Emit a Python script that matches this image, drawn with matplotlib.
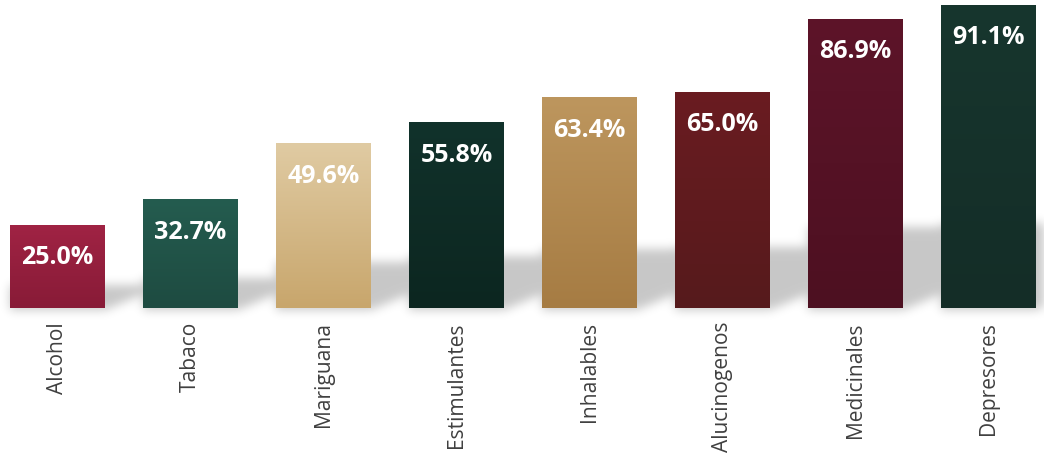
import numpy as np
import matplotlib
matplotlib.use("Agg")
import matplotlib.pyplot as plt
from matplotlib.colors import LinearSegmentedColormap
from matplotlib.path import Path

categories = ["Alcohol", "Tabaco", "Mariguana", "Estimulantes", "Inhalables",
              "Alucinogenos", "Medicinales", "Depresores"]
values = [25.0, 32.7, 49.6, 55.8, 63.4, 65.0, 86.9, 91.1]
labels = ["25.0%", "32.7%", "49.6%", "55.8%", "63.4%", "65.0%", "86.9%", "91.1%"]
top_colors = ["#a02344", "#245c4f", "#e0cba3", "#11322b", "#bd965e", "#6a1c21", "#5d1429", "#17362e"]
bottom_colors = ["#881b37", "#1e4b41", "#c8a66c", "#0c2620", "#a67c43", "#561a1c", "#4d1021", "#142d27"]

DPI = 72
W, H = 1044, 461
fig = plt.figure(figsize=(W / DPI, H / DPI), dpi=DPI, facecolor="white")
ax = fig.add_axes([0, (H - 308) / H, 1, 308 / H])
ax.patch.set_visible(False)
x = np.arange(len(categories))
bars = ax.bar(x, values, width=0.714, color="none", edgecolor="none", zorder=3)
ax.set_xlim(-0.432, 7.417)
ax.set_ylim(0, 92.6)
for s in ax.spines.values():
    s.set_visible(False)
ax.set_yticks([])
ax.set_xticks(x)
ax.set_xticklabels(categories, rotation=90, fontsize=21, color="#404040",
                   family="Open Sans")
ax.tick_params(axis="x", length=0, pad=14)

# gradient fills
grad = np.linspace(0, 1, 256).reshape(-1, 1)
for rect, ct, cb in zip(bars, top_colors, bottom_colors):
    cmap = LinearSegmentedColormap.from_list("g", [cb, ct])
    xl = rect.get_x()
    xr = xl + rect.get_width()
    h = rect.get_height()
    im = ax.imshow(grad, cmap=cmap, origin="lower", extent=(xl, xr, 0, h),
                   aspect="auto", zorder=3, interpolation="bilinear")
    im.set_clip_path(rect)

# value labels
for rect, lab in zip(bars, labels):
    ax.annotate(lab, (rect.get_x() + rect.get_width() / 2, rect.get_height()),
                xytext=(0, -39.5), textcoords="offset points", ha="center",
                va="baseline", color="white", fontsize=25, fontweight="bold",
                family="Open Sans", zorder=5)

# soft cast shadows behind the bars
yy, xx = np.mgrid[0:H, 0:W]
pts = np.column_stack([xx.ravel() + 0.5, yy.ravel() + 0.5])
mask = np.zeros(H * W)
for rect in bars:
    xl = rect.get_x()
    xr = xl + rect.get_width()
    h = rect.get_height()
    (pxl, py0), (pxr, ptop) = ax.transData.transform([(xl, 0), (xr, 0.28 * h)])
    dx, dy = 48, 18
    poly = Path([(pxl, py0 - 2), (pxr, py0 - 2), (pxr + dx, py0 + dy),
                 (pxr + dx, ptop), (pxl, ptop), (pxl, py0 - 2)])
    inside = poly.contains_points(pts).astype(float)
    mask = np.maximum(mask, inside)
mask = mask.reshape(H, W)
sig = 5.0
k = np.arange(-15, 16)
kern = np.exp(-k ** 2 / (2 * sig ** 2))
kern /= kern.sum()
mask = np.apply_along_axis(lambda r: np.convolve(r, kern, mode="same"), 1, mask)
mask = np.apply_along_axis(lambda c: np.convolve(c, kern, mode="same"), 0, mask)
img = np.zeros((H, W, 4))
img[..., 3] = 0.22 * mask
fig.figimage(img, origin="lower", zorder=-1)

fig.savefig("out.png", dpi=DPI, facecolor="white")
